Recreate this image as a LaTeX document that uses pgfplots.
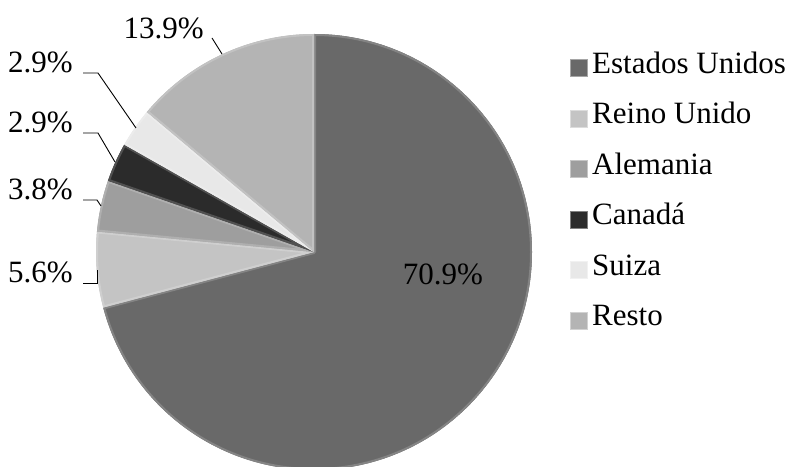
\documentclass[border=0pt]{standalone}
\usepackage{pgfplots}
\pgfplotsset{compat=1.18}
\usepackage{pgfplotstable}
\usepackage{fontspec}
\setmainfont{Liberation Serif}
\definecolor{c0}{RGB}{105,105,105}
\definecolor{c1}{RGB}{196,196,196}
\definecolor{c2}{RGB}{158,158,158}
\definecolor{c3}{RGB}{43,43,43}
\definecolor{c4}{RGB}{232,232,232}
\definecolor{c5}{RGB}{180,180,180}
\pgfplotstableread{
name value
{Estados Unidos} 70.9
{Reino Unido} 5.6
Alemania 3.8
Canadá 2.9
Suiza 2.9
Resto 13.9
}\piedata
\begin{document}
\begin{tikzpicture}[every node/.style={font=\fontsize{31}{36}\selectfont}]
\def\cum{0}
\pgfplotsforeachungrouped \i in {0,...,5}{%
  \pgfplotstablegetelem{\i}{value}\of\piedata
  \pgfmathsetmacro\newcum{\cum+\pgfplotsretval}%
  \pgfmathsetmacro\sa{90-3.6*\cum}%
  \pgfmathsetmacro\ea{90-3.6*\newcum}%
  \expandafter\xdef\csname sa\i\endcsname{\sa}%
  \expandafter\xdef\csname ea\i\endcsname{\ea}%
  \xdef\cum{\newcum}%
}
\begin{axis}[
  at={(0,0)}, anchor=south west,
  width=797pt, height=466pt, scale only axis,
  xmin=0, xmax=797, ymin=0, ymax=466,
  hide axis, clip=false,
]
\pgfplotsinvokeforeach{0,...,5}{%
  \fill[c#1] (axis cs:314,214) -- ++(\csname sa#1\endcsname:218pt)
    arc[start angle=\csname sa#1\endcsname, end angle=\csname ea#1\endcsname, radius=218pt] -- cycle;
  \begin{scope}
  \clip (axis cs:314,214) -- ++(\csname sa#1\endcsname:218pt)
    arc[start angle=\csname sa#1\endcsname, end angle=\csname ea#1\endcsname, radius=218pt] -- cycle;
  \draw[c#1!82!white, line width=4pt, line join=round] (axis cs:314,214) -- ++(\csname sa#1\endcsname:218pt)
    arc[start angle=\csname sa#1\endcsname, end angle=\csname ea#1\endcsname, radius=218pt] -- cycle;
  \end{scope}
}
% data labels
\node[anchor=base] at (axis cs:443,181) {70.9\%};
\node[anchor=base east, inner sep=0pt] at (axis cs:204,427) {13.9\%};
\node[anchor=base east, inner sep=0pt] at (axis cs:73,393) {2.9\%};
\node[anchor=base east, inner sep=0pt] at (axis cs:73,333) {2.9\%};
\node[anchor=base east, inner sep=0pt] at (axis cs:73,266) {3.8\%};
\node[anchor=base east, inner sep=0pt] at (axis cs:73,183) {5.6\%};
% leader lines
\draw[black, line width=0.9pt] (axis cs:212,428) -- (axis cs:222,412);
\draw[black, line width=0.9pt] (axis cs:83,393) -- (axis cs:98,393) -- (axis cs:136,338);
\draw[black, line width=0.9pt] (axis cs:83,333) -- (axis cs:98,333) -- (axis cs:115,304);
\draw[black, line width=0.9pt] (axis cs:83,266) -- (axis cs:97,266) -- (axis cs:101,260);
\draw[black, line width=0.9pt] (axis cs:83,183) -- (axis cs:97,183) -- (axis cs:97,196);
% legend
\pgfplotsinvokeforeach{0,...,5}{%
  \pgfplotstablegetelem{#1}{name}\of\piedata
  \pgfmathsetmacro\yc{398-50.5*#1}%
  \edef\temp{\noexpand\fill[c#1, draw=c#1!60!white, line width=0.8pt]
    (axis cs:570,\yc-8.5) rectangle (axis cs:587,\yc+8.5);
    \noexpand\node[anchor=base west, inner sep=0pt] at (axis cs:592,\yc-5.5) {\pgfplotsretval};}%
  \temp
}
\end{axis}
\pgfresetboundingbox
\path[use as bounding box] (0,0) rectangle (797pt,466pt);
\end{tikzpicture}
\end{document}
